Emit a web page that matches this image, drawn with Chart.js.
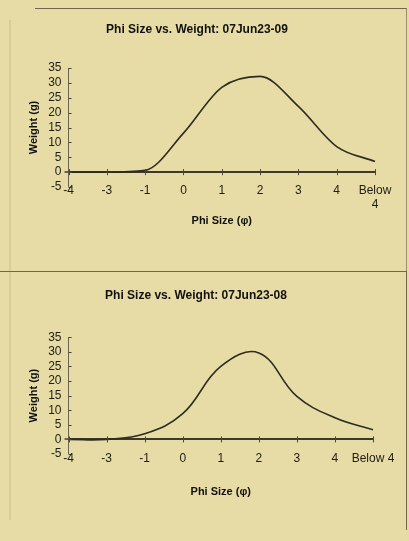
<!DOCTYPE html>
<html>
<head>
<meta charset="utf-8">
<script src="https://cdn.jsdelivr.net/npm/chart.js@4.4.0/dist/chart.umd.min.js"></script>
<style>
  body { margin: 0; background: #e8dca6; }
  #wrap { position: relative; width: 409px; height: 541px; overflow: hidden; background: #e8dca6; }
  canvas { position: absolute; left: 0; }
  #c1 { top: 0; }
  #c2 { top: 270px; }
  .frame1 { position: absolute; left: 35px; top: 8px; width: 371px; height: 262px; border-top: 1px solid #6e6650; border-right: 1px solid #9a9070; }
  .frame2 { position: absolute; left: 0; top: 271px; width: 406px; height: 258px; border-top: 1px solid #6e6650; border-right: 1px solid #6e6650; }
  .mark { position: absolute; left: 9px; top: 20px; width: 2px; height: 500px; background: #d9cc95; }
</style>
</head>
<body>
<div id="wrap">
  <div class="mark"></div>
  <div class="frame1"></div>
  <div class="frame2"></div>
  <canvas id="c1" width="409" height="270"></canvas>
  <canvas id="c2" width="409" height="271"></canvas>
</div>
<script>
// phi size classes
const labels1 = ['-4', '-3', '-1', '0', '1', '2', '3', '4', ['Below', '4']];
const labels2 = ['-4', '-3', '-1', '0', '1', '2', '3', '4', 'Below 4'];

// weight (g) per class
const weight0709 = [0, 0, 0.6, 13.1, 28.5, 32.2, 22.1, 8.6, 3.6];
const weight0708 = [0, 0, 1.9, 8.8, 25, 29.6, 14.7, 7.4, 3.3];

const yTicks = { min: -5, max: 35, step: 5 };

Chart.defaults.font.family = 'Arial, "Liberation Sans", sans-serif';
Chart.defaults.color = '#1e1c14';
Chart.defaults.animation = false;

// cross ticks on the zero line, right half of y ticks, and the category
// labels (drawn here so they can sit just under the -5 line like the original)
const axisExtras = {
    id: 'axisExtras',
    afterDraw(chart, args, opts) {
        const x = chart.scales.x, y = chart.scales.y;
        const y0 = y.getPixelForValue(0);
        const c = chart.ctx;
        c.save();
        c.strokeStyle = '#4a4535';
        c.lineWidth = 1;
        for (let i = 0; i < chart.data.labels.length; i++) {
            const px = Math.round(x.getPixelForValue(i)) + 0.5;
            c.beginPath();
            c.moveTo(px, y0 - 3);
            c.lineTo(px, y0 + 3);
            c.stroke();
        }
        for (let v = yTicks.min; v <= yTicks.max; v += yTicks.step) {
            const py = Math.round(y.getPixelForValue(v)) + 0.5;
            c.beginPath();
            c.moveTo(x.left, py);
            c.lineTo(x.left + 3, py);
            c.stroke();
        }
        c.fillStyle = '#1e1c14';
        c.font = '12px Arial, "Liberation Sans", sans-serif';
        c.textAlign = 'center';
        c.textBaseline = 'middle';
        chart.data.labels.forEach((lab, i) => {
            const lines = Array.isArray(lab) ? lab : [lab];
            lines.forEach((t, j) => {
                c.fillText(t, x.getPixelForValue(i), y.bottom + opts.gap + j * 14);
            });
        });
        c.restore();
    }
};

function makeChart(id, labels, data, title, pad) {
    return new Chart(document.getElementById(id).getContext('2d'), {
        type: 'line',
        data: {
            labels: labels,
            datasets: [{
                data: data,
                borderColor: '#2e2b20',
                borderWidth: 1.6,
                pointRadius: 0,
                tension: 0.4,
                cubicInterpolationMode: pad.mode,
                fill: false
            }]
        },
        options: {
            responsive: false,
            layout: { padding: { left: 19, right: pad.right, top: 0, bottom: 0 } },
            plugins: {
                legend: { display: false },
                tooltip: { enabled: false },
                axisExtras: { gap: pad.labelGap },
                title: {
                    display: true,
                    text: title,
                    font: { size: 12, weight: 'bold' },
                    color: '#111',
                    padding: { top: pad.titleTop, bottom: pad.titleBottom }
                }
            },
            scales: {
                x: {
                    offset: false,
                    grid: { display: false, drawTicks: false },
                    border: { display: false },
                    ticks: { display: false, autoSkip: false, maxRotation: 0 },
                    title: {
                        display: true,
                        text: 'Phi Size (\u03c6)',
                        font: { size: 11, weight: 'bold' },
                        color: '#111',
                        padding: { top: pad.xTitleTop, bottom: pad.xTitleBottom }
                    }
                },
                y: {
                    min: yTicks.min,
                    max: yTicks.max,
                    ticks: {
                        stepSize: yTicks.step,
                        autoSkip: false,
                        padding: 3,
                        font: { size: 12 },
                        color: '#1e1c14'
                    },
                    border: { display: true, color: '#6a6450', width: 1 },
                    grid: {
                        color: ctx => ctx.tick && ctx.tick.value === 0 ? '#3c382a' : 'rgba(0,0,0,0)',
                        lineWidth: ctx => ctx.tick && ctx.tick.value === 0 ? 2 : 0,
                        tickColor: '#6a6450',
                        tickLength: 4
                    },
                    title: {
                        display: true,
                        text: 'Weight (g)',
                        font: { size: 11, weight: 'bold' },
                        color: '#111',
                        padding: { top: 8, bottom: 5 }
                    }
                }
            }
        },
        plugins: [axisExtras]
    });
}

makeChart('c1', labels1, weight0709, 'Phi Size vs. Weight: 07Jun23-09',
    { mode: 'monotone', right: 34, titleTop: 22, titleBottom: 31.6, labelGap: 4, xTitleTop: 27.4, xTitleBottom: 42.4 });
makeChart('c2', labels2, weight0708, 'Phi Size vs. Weight: 07Jun23-08',
    { mode: 'default', right: 36, titleTop: 18, titleBottom: 34.8, labelGap: 5, xTitleTop: 31.1, xTitleBottom: 42.7 });
</script>
</body>
</html>
